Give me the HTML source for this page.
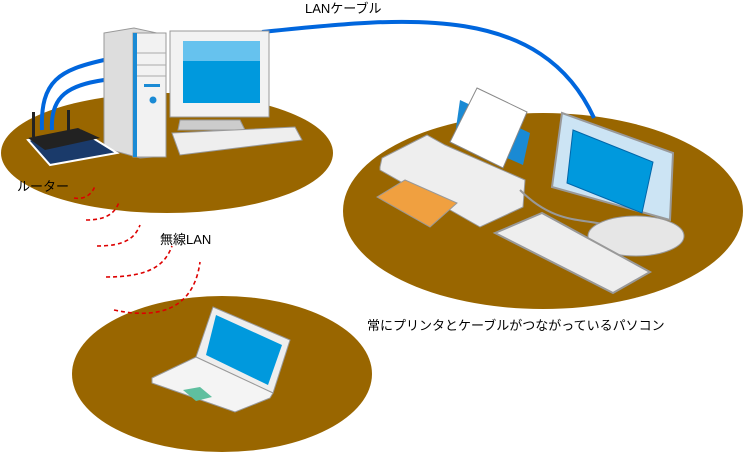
<!DOCTYPE html>
<html><head><meta charset="utf-8"><style>
html,body{margin:0;padding:0;background:#fff;}
svg{display:block;}
text{font-family:"Liberation Sans","Noto Sans CJK JP",sans-serif;font-size:13px;fill:#000;}
</style></head><body>
<svg width="745" height="453" viewBox="0 0 745 453" xmlns="http://www.w3.org/2000/svg">
<ellipse cx="167" cy="153" rx="166" ry="60" fill="#996600"/>
<ellipse cx="543" cy="211" rx="200" ry="98" fill="#996600"/>
<ellipse cx="222" cy="374" rx="150" ry="78" fill="#996600"/>
<path d="M262,32 C400,18 540,0 594,118" stroke="#0066dd" stroke-width="4" fill="none"/>
<path d="M104,60 C60,70 40,80 42,130" stroke="#0066dd" stroke-width="4" fill="none"/>
<path d="M104,80 C70,85 50,95 52,130" stroke="#0066dd" stroke-width="4" fill="none"/>
<g stroke="#dd0000" stroke-width="1.6" stroke-dasharray="4,3" fill="none">
<path d="M74,198 C85,200 92,194 95,186"/>
<path d="M86,220 C105,220 115,214 119,202"/>
<path d="M97,246 C125,246 135,238 140,225"/>
<path d="M106,277 C150,277 165,265 172,246"/>
<path d="M114,310 C170,322 195,300 200,262"/>
</g>
<path d="M104,33 L134,28 L166,35 L166,156 L140,158 L104,148 Z" fill="#ddd" stroke="#999"/>
<rect x="133" y="33" width="33" height="124" fill="#f2f2f2" stroke="#999"/>
<rect x="133" y="33" width="4" height="124" fill="#1a8ad4"/>
<line x1="137" y1="53" x2="166" y2="53" stroke="#aaa"/><line x1="137" y1="65" x2="166" y2="65" stroke="#aaa"/><line x1="137" y1="76" x2="166" y2="76" stroke="#aaa"/>
<rect x="144" y="84" width="16" height="3" fill="#1a8ad4"/><circle cx="153" cy="100" r="3.5" fill="#1a8ad4"/>
<rect x="170" y="31" width="99" height="86" fill="#f2f2f2" stroke="#999"/>
<rect x="183" y="41" width="77" height="62" fill="#0099dd"/>
<rect x="183" y="41" width="77" height="20" fill="#66c2ee"/>
<path d="M180,120 L240,120 L245,130 L178,130 Z" fill="#ccc" stroke="#999"/>
<path d="M172,133 L295,127 L302,140 L180,155 Z" fill="#eee" stroke="#999"/>
<rect x="32" y="112" width="3" height="25" fill="#222"/><rect x="67" y="110" width="3" height="22" fill="#222"/>
<path d="M28,140 L80,130 L117,153 L50,165 Z" fill="#1a3a6a" stroke="#fff" stroke-width="2"/>
<path d="M28,138 L78,128 L100,138 L45,150 Z" fill="#222"/>
<!-- printer -->
<path d="M460,100 L530,133 L523,165 L455,135 Z" fill="#1a8ad4"/>
<path d="M477,88 L527,112 L503,168 L450,142 Z" fill="#fff" stroke="#888"/>
<path d="M380,167 L382,158 L427,135 L445,145 L525,180 L523,207 L480,227 L380,170 Z" fill="#eee" stroke="#999"/>
<path d="M377,197 L405,180 L457,203 L430,227 Z" fill="#f0a040" stroke="#999"/>
<!-- right monitor -->
<path d="M520,190 C560,230 590,215 620,230" stroke="#999" stroke-width="2" fill="none"/>
<ellipse cx="636" cy="236" rx="48" ry="20" fill="#e6e6e6" stroke="#999"/>
<path d="M562,113 L673,153 L670,220 L552,187 Z" fill="#cce4f4" stroke="#999" stroke-width="2"/>
<path d="M573,130 L653,162 L642,213 L567,183 Z" fill="#0099dd" stroke="#0066aa"/>
<path d="M495,233 L542,213 L650,272 L613,293 Z" fill="#eee" stroke="#999" stroke-width="2"/>
<!-- laptop -->
<path d="M213,307 L290,340 L273,393 L196,357 Z" fill="#eee" stroke="#999"/>
<path d="M216,315 L282,345 L268,385 L206,355 Z" fill="#0099dd"/>
<path d="M196,357 L273,393 L270,398 L235,412 L152,383 L152,378 Z" fill="#f4f4f4" stroke="#999"/>
<path d="M183,390 L200,387 L212,397 L196,401 Z" fill="#5fbf9f"/>
<text x="305" y="13">LANケーブル</text>
<text x="17" y="191">ルーター</text>
<text x="160" y="244">無線LAN</text>
<text x="367" y="330">常にプリンタとケーブルがつながっているパソコン</text>
</svg>
</body></html>
